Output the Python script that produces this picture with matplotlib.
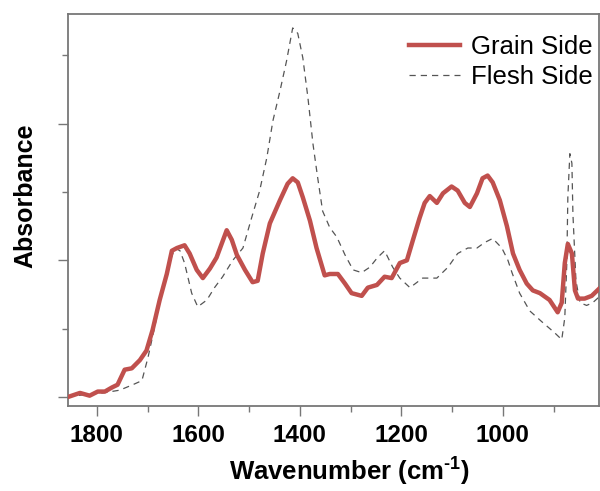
import matplotlib.pyplot as plt
from matplotlib.ticker import MultipleLocator, NullFormatter

plt.rcParams['font.family'] = ['Liberation Sans', 'DejaVu Sans']
plt.rcParams['mathtext.fontset'] = 'custom'
plt.rcParams['mathtext.rm'] = 'Liberation Sans:bold'
plt.rcParams['mathtext.default'] = 'rm'

# grain side spectrum (wavenumber, absorbance)
grain_wn = [1857, 1833, 1814, 1798, 1784, 1770, 1759, 1745, 1731, 1715, 1702, 1690,
            1676, 1662, 1652, 1642, 1627, 1617, 1603, 1591, 1577, 1564, 1554, 1544,
            1534, 1524, 1508, 1493, 1483, 1473, 1459, 1439, 1424, 1414, 1404, 1394,
            1380, 1367, 1351, 1341, 1325, 1311, 1298, 1278, 1266, 1248, 1233, 1219,
            1203, 1189, 1177, 1164, 1154, 1144, 1130, 1118, 1101, 1089, 1075, 1065,
            1051, 1040, 1030, 1020, 1006, 992, 980, 967, 953, 941, 927, 908, 892,
            884, 878, 872, 864, 858, 852, 839, 825, 811]
grain_abs = [0.00, 0.03, 0.01, 0.04, 0.04, 0.07, 0.09, 0.20, 0.21, 0.27, 0.34, 0.49,
             0.71, 0.90, 1.07, 1.09, 1.11, 1.05, 0.93, 0.87, 0.94, 1.02, 1.12, 1.22,
             1.15, 1.04, 0.93, 0.84, 0.85, 1.05, 1.27, 1.44, 1.56, 1.60, 1.57, 1.46,
             1.29, 1.09, 0.89, 0.90, 0.90, 0.83, 0.76, 0.74, 0.80, 0.82, 0.88, 0.87,
             0.98, 1.00, 1.15, 1.31, 1.42, 1.47, 1.42, 1.49, 1.54, 1.51, 1.42, 1.39,
             1.49, 1.60, 1.62, 1.57, 1.44, 1.25, 1.05, 0.93, 0.83, 0.78, 0.76, 0.71,
             0.62, 0.69, 0.98, 1.12, 1.05, 0.78, 0.72, 0.72, 0.74, 0.79]

# flesh side spectrum
flesh_wn = [1857, 1820, 1788, 1755, 1729, 1711, 1699, 1686, 1672, 1660, 1646, 1636,
            1627, 1613, 1601, 1583, 1568, 1552, 1532, 1512, 1495, 1479, 1465, 1453,
            1439, 1426, 1414, 1404, 1394, 1384, 1374, 1365, 1355, 1341, 1327, 1311,
            1295, 1278, 1262, 1247, 1233, 1217, 1203, 1183, 1158, 1130, 1108, 1089,
            1069, 1051, 1036, 1020, 1002, 990, 982, 967, 947, 923, 898, 884, 878,
            874, 872, 868, 864, 862, 856, 848, 835, 823, 811]
flesh_abs = [0.00, 0.02, 0.03, 0.05, 0.09, 0.12, 0.29, 0.51, 0.76, 0.95, 1.09, 1.07,
             0.98, 0.76, 0.66, 0.71, 0.80, 0.88, 1.00, 1.09, 1.31, 1.51, 1.75, 2.02,
             2.24, 2.46, 2.70, 2.66, 2.48, 2.19, 1.85, 1.61, 1.36, 1.24, 1.17, 1.04,
             0.93, 0.91, 0.95, 1.02, 1.07, 0.95, 0.87, 0.80, 0.87, 0.87, 0.95, 1.05,
             1.09, 1.09, 1.13, 1.16, 1.09, 1.00, 0.91, 0.76, 0.63, 0.55, 0.47, 0.42,
             0.58, 0.98, 1.46, 1.78, 1.71, 1.34, 0.85, 0.69, 0.67, 0.69, 0.73]

fig = plt.figure(figsize=(6, 4.91), dpi=100)
ax = fig.add_axes([0.113, 0.173, 0.885, 0.798])

ax.plot(grain_wn, grain_abs, color='#c0504d', lw=3.2, label='Grain Side',
        solid_joinstyle='round', zorder=3)
ax.plot(flesh_wn, flesh_abs, color='#555555', lw=0.9, ls=(0, (5, 4)),
        label='Flesh Side', zorder=2)

ax.set_xlim(1857, 811)
ax.set_ylim(-0.066, 2.8)

ax.xaxis.set_major_locator(MultipleLocator(200))
ax.xaxis.set_minor_locator(MultipleLocator(100))
ax.yaxis.set_major_locator(MultipleLocator(1))
ax.yaxis.set_minor_locator(MultipleLocator(0.5))
ax.yaxis.set_major_formatter(NullFormatter())

ax.tick_params(axis='both', which='major', length=7, width=1, color='#777777')
ax.tick_params(axis='both', which='minor', length=4, width=1, color='#777777')
ax.tick_params(axis='x', labelsize=17.5, pad=6)
for lab in ax.get_xticklabels():
    lab.set_fontweight('bold')

for sp in ax.spines.values():
    sp.set_color('#777777')
    sp.set_linewidth(1.3)

ax.set_xlabel(r'Wavenumber (cm$^{\text{-1}}$)', fontsize=18.5, fontweight='bold')
ax.xaxis.set_label_coords(0.531, -0.126)
ax.set_ylabel('Absorbance', fontsize=18, fontweight='bold')
ax.yaxis.set_label_coords(-0.058, 0.538)

ax.legend(loc='upper right', bbox_to_anchor=(1.0075, 0.9745), frameon=False,
          fontsize=18.5, handlelength=2.0, handletextpad=0.4, labelspacing=0.26,
          borderaxespad=0)

fig.savefig('out.png', dpi=100)
